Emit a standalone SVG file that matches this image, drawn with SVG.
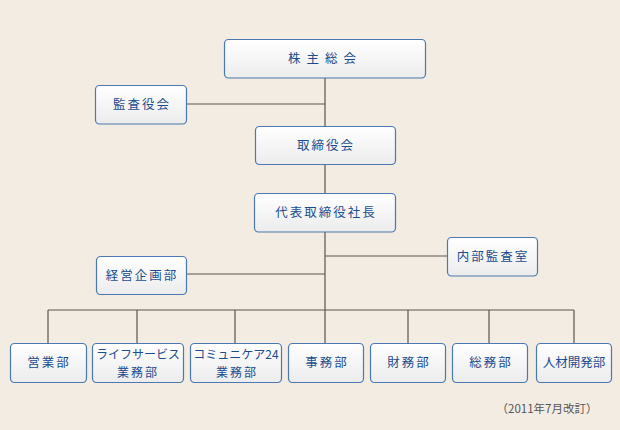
<svg xmlns="http://www.w3.org/2000/svg" width="620" height="430" viewBox="0 0 620 430">
<style>
.b{fill:url(#g);stroke:#4a78b2;stroke-width:1.2}
.t{font-family:"Noto Sans CJK JP","Noto Sans CJK SC",sans-serif;font-size:12.5px;fill:#1a4c8f;text-anchor:middle;letter-spacing:2px}
.s{font-size:12px;letter-spacing:0}
.l{stroke:#5a5550;stroke-width:1.2;fill:none}
.n{font-family:"Noto Sans CJK JP",sans-serif;font-size:11.5px;fill:#555;text-anchor:middle}
</style>
<defs>
<linearGradient id="g" x1="0" y1="0" x2="0" y2="1">
<stop offset="0" stop-color="#ffffff"/>
<stop offset="1" stop-color="#ececec"/>
</linearGradient>
</defs>
<rect width="620" height="430" fill="#f2ece3"/>
<g id="connectors">
<path class="l" d="M325 78V343M187 104H325M186 274H325M325 256H447M48 310H574M48 310V343M137 310V343M235 310V343M408 310V343M489 310V343M574 310V343"/>
</g>
<g id="kabunushi"><rect class="b" x="224.5" y="39.5" width="201" height="38.5" rx="4"/><text class="t" x="325" y="63" style="letter-spacing:6px">株主総会</text></g>
<g id="kansayakukai"><rect class="b" x="95.5" y="85.5" width="91" height="38.5" rx="4"/><text class="t" x="142" y="109">監査役会</text></g>
<g id="torishimariyakukai"><rect class="b" x="255.5" y="126.5" width="140" height="38" rx="4"/><text class="t" x="326" y="150">取締役会</text></g>
<g id="daihyo"><rect class="b" x="254.5" y="193.5" width="141" height="38.5" rx="4"/><text class="t" x="326" y="217">代表取締役社長</text></g>
<g id="naibu"><rect class="b" x="447.5" y="237.5" width="90" height="38.5" rx="4"/><text class="t" x="493" y="261">内部監査室</text></g>
<g id="keiei"><rect class="b" x="96.5" y="256.5" width="90" height="38" rx="4"/><text class="t" x="142" y="280">経営企画部</text></g>
<g id="eigyo"><rect class="b" x="10.5" y="343.5" width="76" height="39" rx="4"/><text class="t" x="49" y="367">営業部</text></g>
<g id="life"><rect class="b" x="92.5" y="343.5" width="91" height="39" rx="4"/><text class="t s" x="138" y="359">ライフサービス</text><text class="t s" x="138" y="377" style="letter-spacing:2px">業務部</text></g>
<g id="commu"><rect class="b" x="190.5" y="343.5" width="91" height="39" rx="4"/><text class="t s" x="236" y="359">コミュニケア24</text><text class="t s" x="237" y="377" style="letter-spacing:2px">業務部</text></g>
<g id="jimu"><rect class="b" x="288.5" y="343.5" width="75" height="39" rx="4"/><text class="t" x="327" y="367">事務部</text></g>
<g id="zaimu"><rect class="b" x="370.5" y="343.5" width="75" height="39" rx="4"/><text class="t" x="409" y="367">財務部</text></g>
<g id="somu"><rect class="b" x="452.5" y="343.5" width="75" height="39" rx="4"/><text class="t" x="491" y="367">総務部</text></g>
<g id="jinzai"><rect class="b" x="536.5" y="343.5" width="75" height="39" rx="4"/><text class="t" x="574" y="367" style="letter-spacing:0">人材開発部</text></g>
<text class="n" x="547" y="413">（2011年7月改訂）</text>
</svg>
